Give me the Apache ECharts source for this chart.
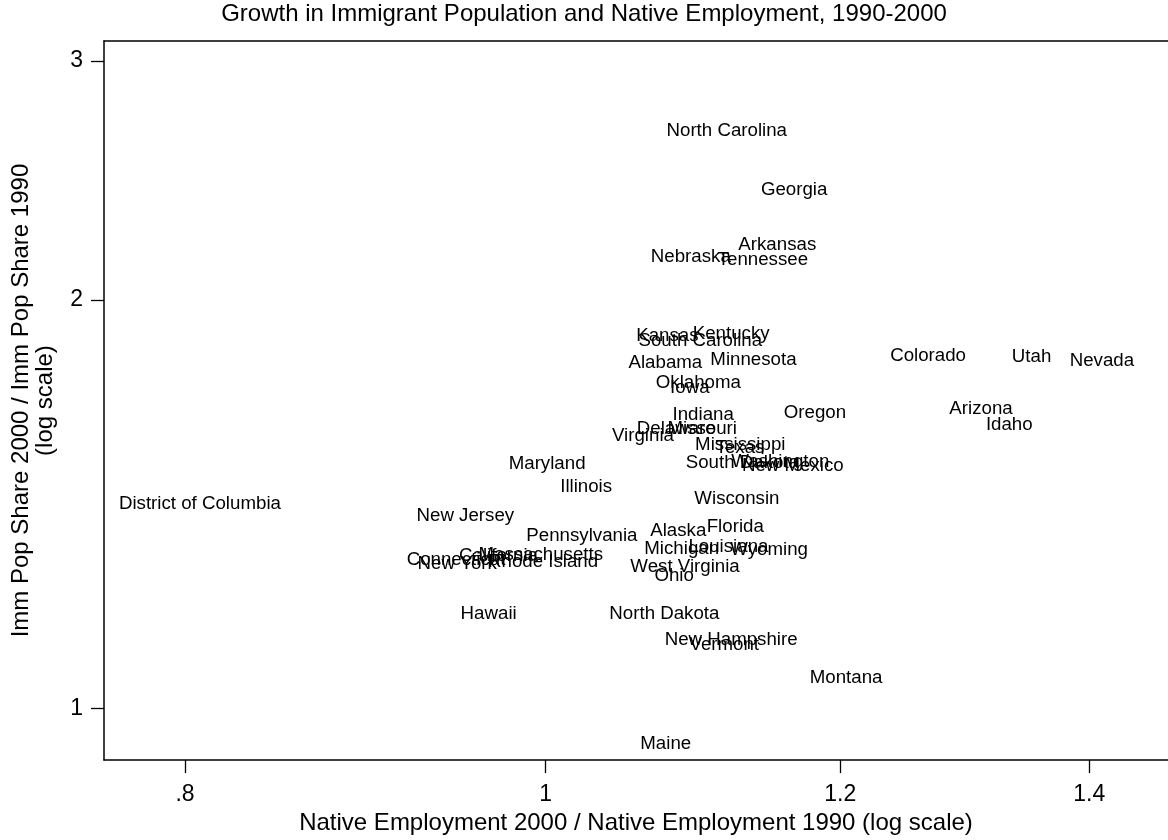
<!DOCTYPE html>
<html><head><meta charset="utf-8">
<script src="https://cdn.jsdelivr.net/npm/echarts@6/dist/echarts.min.js"></script>
<style>html,body{margin:0;padding:0;background:#fff}#c{width:1168px;height:840px}</style>
</head><body><div id="c"></div>
<script>
// State labels
const states = [
  'North Carolina','Georgia','Arkansas','Nebraska','Tennessee','Kansas','Kentucky','South Carolina',
  'Alabama','Minnesota','Oklahoma','Iowa','Indiana','Oregon','Delaware','Missouri','Virginia',
  'Mississippi','Texas','South Dakota','Washington','New Mexico','Colorado','Utah','Nevada',
  'Arizona','Idaho','District of Columbia','Maryland','Illinois','New Jersey','Pennsylvania',
  'Connecticut','New York','California','Massachusetts','Rhode Island','Hawaii','Wisconsin',
  'Alaska','Florida','Michigan','Louisiana','Wyoming','West Virginia','Ohio','North Dakota',
  'New Hampshire','Vermont','Montana','Maine'
];
// Native Employment 2000 / Native Employment 1990
const empGrowth = [
  1.0757,1.1404,1.1246,1.0653,1.1103,1.0557,1.0933,1.0572,
  1.0507,1.1053,1.0686,1.0781,1.0797,1.1567,1.0561,1.0763,1.0400,
  1.0949,1.1089,1.0886,1.1197,1.1271,1.2354,1.3320,1.3806,
  1.2815,1.3108,0.7665,0.9756,1.0072,0.9215,0.9863,
  0.9159,0.9221,0.9461,0.9575,0.9632,0.9470,1.0944,
  1.0649,1.1028,1.0610,1.0904,1.1190,1.0519,1.0677,1.0383,
  1.0745,1.0911,1.1754,1.0584
];
// Imm Pop Share 2000 / Imm Pop Share 1990
const immGrowth = [
  2.6727,2.4166,2.2010,2.1586,2.1447,1.8874,1.8932,1.8699,
  1.8024,1.8125,1.7424,1.7271,1.6505,1.6561,1.6110,1.6110,1.5929,
  1.5675,1.5596,1.5217,1.5243,1.5127,1.8230,1.8199,1.8077,
  1.6654,1.6228,1.4185,1.5191,1.4611,1.3900,1.3437,
  1.2897,1.2810,1.2990,1.3007,1.2863,1.1765,1.4293,
  1.3556,1.3632,1.3138,1.3193,1.3118,1.2754,1.2557,1.1771,
  1.1252,1.1173,1.0557,0.9445
];
const xTickValues = [0.8, 1, 1.2, 1.4];
const xTickLabels = ['.8', '1', '1.2', '1.4'];
const yTickValues = [1, 2, 3];
const yTickLabels = ['1', '2', '3'];

const FONT = '"Liberation Sans", Arial, Helvetica, sans-serif';
function tickFmt(vals, labels) {
  return function (v) {
    for (let i = 0; i < vals.length; i++) {
      if (Math.abs(Math.log(vals[i]) - v) < 1e-6) return labels[i];
    }
    return '';
  };
}
const X_MIN = -0.2733, X_MAX = 0.3852;

const chart = echarts.init(document.getElementById('c'), null, {renderer: 'canvas'});
chart.setOption({
  backgroundColor: '#fff',
  animation: false,
  title: {
    text: 'Growth in Immigrant Population and Native Employment, 1990-2000',
    left: 'center',
    top: 2,
    padding: [0, 0, 0, 104],
    textStyle: {fontFamily: FONT, fontSize: 24, fontWeight: 'normal', color: '#000'}
  },
  grid: {left: 104, top: 41, right: 0, bottom: 78, show: false},
  xAxis: [{
    type: 'value',
    min: X_MIN, max: X_MAX,
    name: 'Native Employment 2000 / Native Employment 1990 (log scale)',
    nameLocation: 'middle', nameGap: 47,
    nameTextStyle: {fontFamily: FONT, fontSize: 24, color: '#000'},
    splitLine: {show: false},
    axisLine: {onZero: false, lineStyle: {color: '#000', width: 1.5}},
    axisTick: {show: true, length: 13, customValues: xTickValues.map(Math.log), lineStyle: {color: '#000', width: 1.3}},
    axisLabel: {customValues: xTickValues.map(Math.log), formatter: tickFmt(xTickValues, xTickLabels),
      margin: 23, fontFamily: FONT, fontSize: 23, color: '#000'}
  }, {
    type: 'value', position: 'top',
    min: X_MIN, max: X_MAX,
    splitLine: {show: false}, axisTick: {show: false}, axisLabel: {show: false},
    axisLine: {onZero: false, lineStyle: {color: '#000', width: 1.5}}
  }],
  yAxis: {
    type: 'value',
    min: -0.0880, max: 1.1326,
    name: 'Imm Pop Share 2000 / Imm Pop Share 1990\n(log scale)',
    nameLocation: 'middle', nameGap: 47,
    nameTextStyle: {fontFamily: FONT, fontSize: 24, color: '#000', lineHeight: 24},
    splitLine: {show: false},
    axisLine: {onZero: false, lineStyle: {color: '#000', width: 1.5}},
    axisTick: {show: true, length: 13, customValues: yTickValues.map(Math.log), lineStyle: {color: '#000', width: 1.3}},
    axisLabel: {customValues: yTickValues.map(Math.log), formatter: tickFmt(yTickValues, yTickLabels),
      margin: 21, fontFamily: FONT, fontSize: 23, color: '#000'}
  },
  series: [{
    type: 'scatter',
    xAxisIndex: 0,
    symbolSize: 1,
    itemStyle: {color: 'rgba(0,0,0,0)', opacity: 1},
    data: states.map((s, i) => ({name: s, value: [Math.log(empGrowth[i]), Math.log(immGrowth[i])]})),
    label: {
      show: true, position: 'right', distance: 2.5, offset: [0, 1.5], formatter: '{b}',
      fontFamily: FONT, fontSize: 18.7, color: '#000', opacity: 1
    },
    emphasis: {disabled: true}
  }]
});
</script>
</body></html>
